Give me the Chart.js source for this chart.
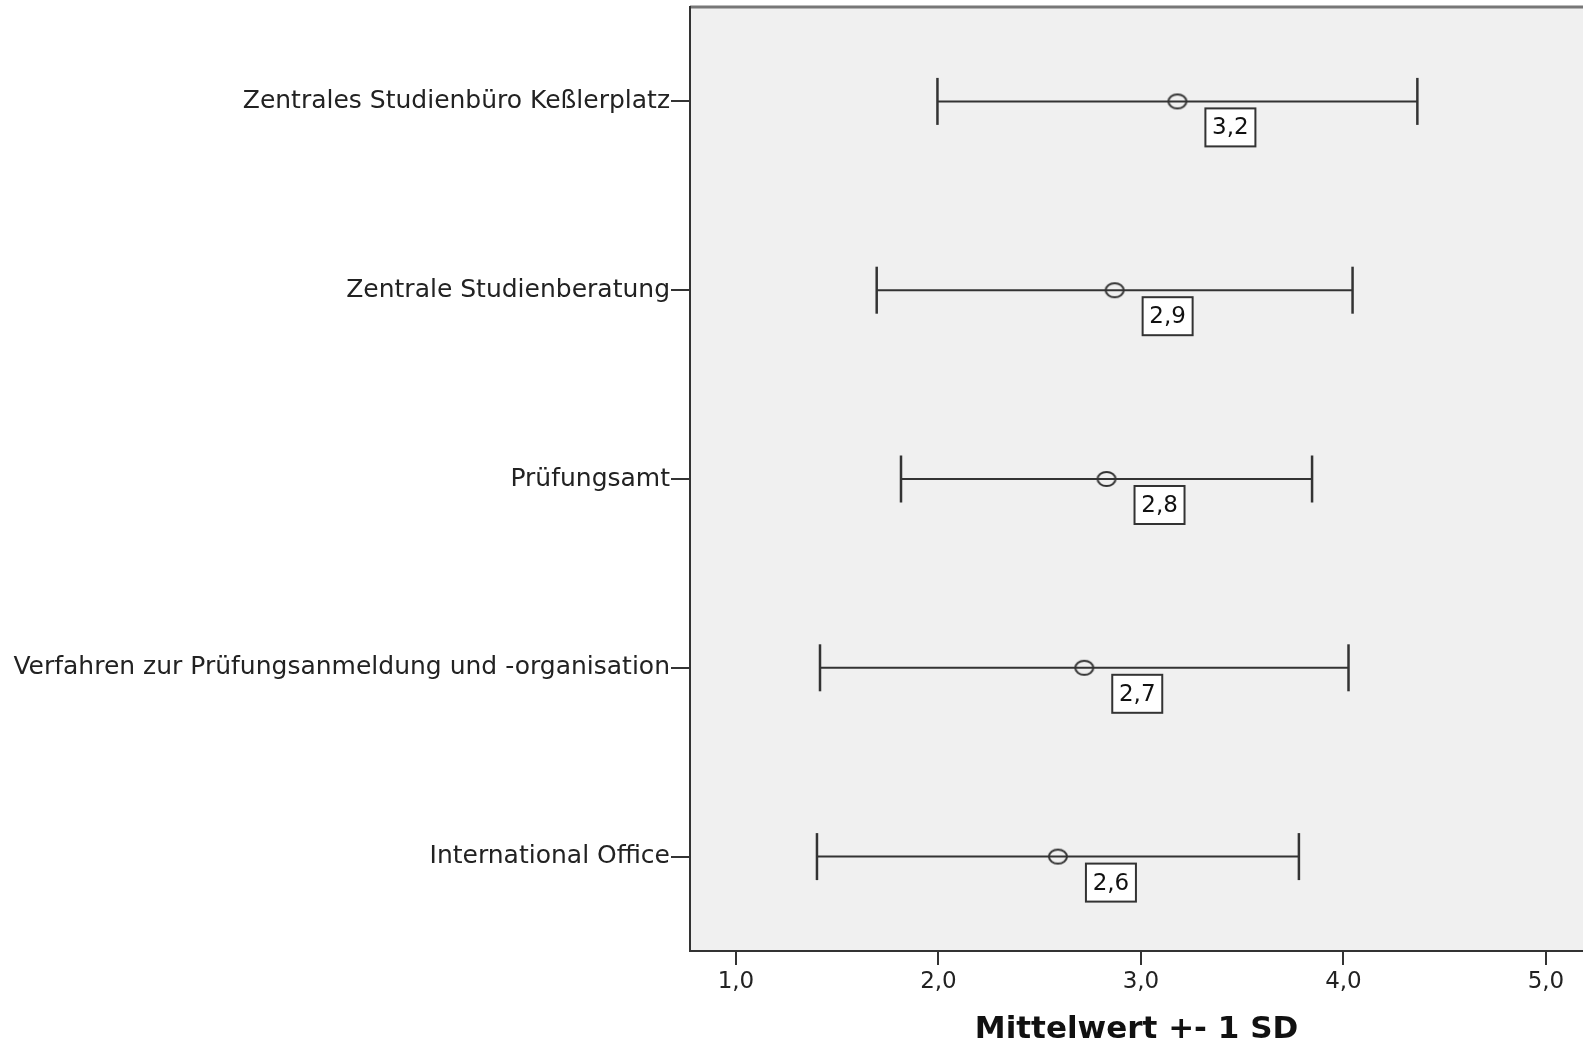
<!DOCTYPE html>
<html lang="de">
<head>
<meta charset="UTF-8">
<title>Mittelwert +- 1 SD</title>
<script src="https://cdn.jsdelivr.net/npm/chart.js"></script>
<style>
  html, body { margin: 0; padding: 0; background: #fff; overflow: hidden; }
  #chart { display: block; }
</style>
</head>
<body>
<canvas id="chart" width="1583" height="1049"></canvas>
<script>
  // Werte
  const categories = [
    'Zentrales Studienbüro Keßlerplatz',
    'Zentrale Studienberatung',
    'Prüfungsamt',
    'Verfahren zur Prüfungsanmeldung und -organisation',
    'International Office'
  ];
  const means = [3.18, 2.87, 2.83, 2.72, 2.59];
  const sds = [1.185, 1.175, 1.015, 1.305, 1.19];
  const meanLabels = ['3,2', '2,9', '2,8', '2,7', '2,6'];
  const xTickValues = [1, 2, 3, 4, 5];

  const lineColor = '#333';
  const plotBg = '#f0f0f0';
  const font = "'DejaVu Sans', sans-serif";

  // Mittelwert-Markierung: leicht gestreckter Kreis
  const ring = document.createElement('canvas');
  ring.width = 22;
  ring.height = 18;
  const rc = ring.getContext('2d');
  rc.strokeStyle = lineColor;
  rc.lineWidth = 2;
  rc.beginPath();
  rc.ellipse(11, 9, 9, 7, 0, 0, Math.PI * 2);
  rc.stroke();

  // Fehlerbalken: eine Linie je Kategorie, Endstriche als gedrehte Punkte
  const whiskerSets = categories.map((cat, i) => ({
    type: 'scatter',
    showLine: true,
    data: [
      { x: means[i] - sds[i], y: cat },
      { x: means[i] + sds[i], y: cat }
    ],
    borderColor: lineColor,
    borderWidth: 2,
    pointStyle: 'line',
    pointRotation: 90,
    pointRadius: 23.5,
    pointBorderWidth: 2.5,
    pointBorderColor: lineColor
  }));

  const meanSet = {
    type: 'scatter',
    data: categories.map((cat, i) => ({ x: means[i], y: cat })),
    pointStyle: ring,
    pointRadius: 9,
    showLine: false
  };

  // keine automatischen Randabstände für überstehende Beschriftungen
  const noPad = s => {
    s.paddingLeft = 0;
    s.paddingRight = 0;
    s.paddingTop = 0;
    s.paddingBottom = 0;
  };

  const plotArea = {
    id: 'plotArea',
    beforeDraw(chart) {
      const { ctx, chartArea: a } = chart;
      ctx.save();
      ctx.fillStyle = plotBg;
      ctx.fillRect(a.left, a.top, a.right - a.left, a.bottom - a.top);
      ctx.strokeStyle = '#777';
      ctx.lineWidth = 3;
      ctx.beginPath();
      ctx.moveTo(a.left, a.top);
      ctx.lineTo(a.right, a.top);
      ctx.stroke();
      ctx.restore();
    }
  };

  const valueBoxes = {
    id: 'valueBoxes',
    afterDatasetsDraw(chart) {
      const { ctx, scales: { x, y } } = chart;
      ctx.save();
      ctx.font = '23px ' + font;
      ctx.textAlign = 'center';
      ctx.textBaseline = 'middle';
      categories.forEach((cat, i) => {
        const px = x.getPixelForValue(means[i]);
        const py = y.getPixelForValue(i);
        const left = px + 28, top = py + 7, w = 50, h = 38;
        ctx.fillStyle = '#fff';
        ctx.fillRect(left, top, w, h);
        ctx.strokeStyle = lineColor;
        ctx.lineWidth = 2;
        ctx.strokeRect(left, top, w, h);
        ctx.fillStyle = '#111';
        ctx.fillText(meanLabels[i], left + w / 2, top + h / 2 + 1);
      });
      ctx.restore();
    }
  };

  new Chart(document.getElementById('chart'), {
    type: 'scatter',
    data: { datasets: [...whiskerSets, meanSet] },
    options: {
      responsive: false,
      animation: false,
      layout: { autoPadding: false, padding: { top: 7, right: 0, left: 0, bottom: 0 } },
      plugins: { legend: { display: false }, tooltip: { enabled: false } },
      scales: {
        x: {
          type: 'linear',
          min: 0.773,
          max: 5.183,
          afterBuildTicks: s => { s.ticks = xTickValues.map(v => ({ value: v })); },
          afterFit: s => { s.height = 98; noPad(s); },
          grid: { drawOnChartArea: false, drawTicks: true, tickLength: 14, color: lineColor, lineWidth: 2 },
          border: { display: true, color: lineColor, width: 2 },
          ticks: {
            color: '#222',
            padding: 3,
            font: { family: font, size: 23 },
            callback: v => v.toFixed(1).replace('.', ',')
          },
          title: {
            display: true,
            text: 'Mittelwert +- 1 SD',
            color: '#111',
            font: { family: font, size: 31, weight: 'bold' },
            padding: { top: 0, bottom: 0 }
          }
        },
        y: {
          type: 'category',
          labels: categories,
          offset: true,
          afterFit: s => { s.width = 690; noPad(s); },
          grid: { drawOnChartArea: false, drawTicks: true, tickLength: 19, offset: false, color: lineColor, lineWidth: 2 },
          border: { display: true, color: lineColor, width: 2 },
          ticks: {
            color: '#222',
            padding: 1,
            font: { family: font, size: 25 }
          }
        }
      }
    },
    plugins: [plotArea, valueBoxes]
  });
</script>
</body>
</html>
